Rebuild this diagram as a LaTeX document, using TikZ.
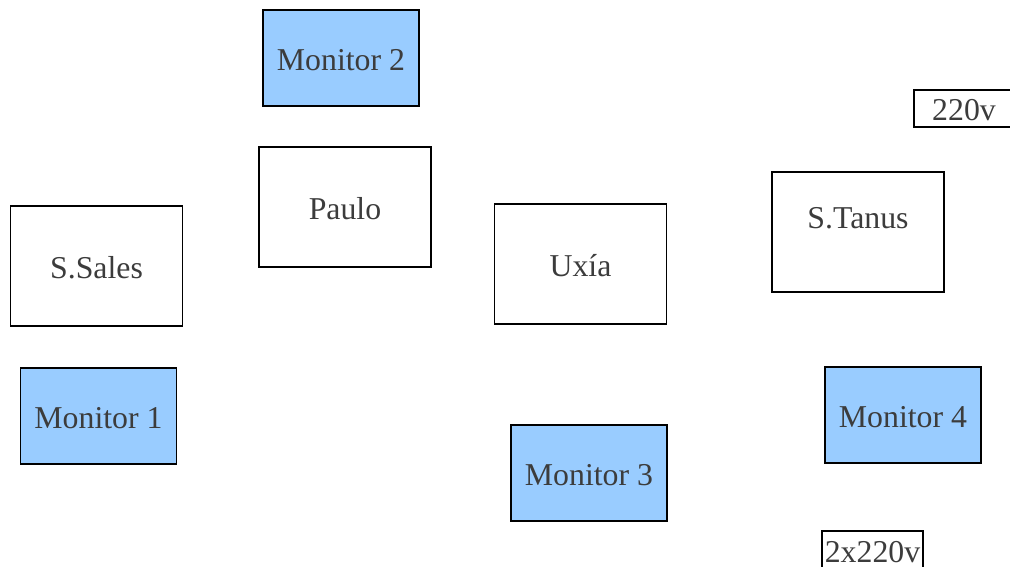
\documentclass[tikz,border=0pt]{standalone}
\usepackage{fontspec}
\setmainfont{Liberation Serif}
\usepackage{tikz}

\definecolor{monblue}{HTML}{99CCFF}
\definecolor{textgrey}{HTML}{3C3C3C}

\begin{document}
\begin{tikzpicture}[x=1pt,y=-1pt,
  every node/.style={font=\fontsize{31.8}{36}\selectfont,text=textgrey,text height=25pt,text depth=0pt},
  desk/.style={draw,line width=1.8pt,minimum width=172pt,minimum height=120pt,inner sep=0pt},
  screen/.style={draw,line width=1.8pt,fill=monblue,minimum width=156pt,minimum height=96pt,inner sep=0pt},
  plug/.style={draw,line width=1.8pt,inner sep=0pt}]
 \useasboundingbox (0,0) rectangle (1010,567);
 \clip (0,0) rectangle (1010,567);

 \node[screen] (mon_2) at (341,58) {Monitor 2};
 \node[desk] (paulo) at (345,207) {Paulo};
 \node[desk] (ssales) at (96.5,266) {S.Sales};
 \node[desk] (uxia) at (580.5,264) {Uxía};
 \node[desk,label={[yshift=16pt]center:S.Tanus}] (stanus) at (858,232) {};
 \node[screen] (mon_1) at (98.5,416) {Monitor 1};
 \node[screen] (mon_3) at (589,473) {Monitor 3};
 \node[screen] (mon_4) at (903,415) {Monitor 4};
 \node[plug,minimum width=100pt,minimum height=37pt] (plug_1) at (964,108.5) {220v};
 \node[plug,minimum width=101pt,minimum height=38pt] (plug_2) at (872.5,550) {2x220v};
\end{tikzpicture}
\end{document}
